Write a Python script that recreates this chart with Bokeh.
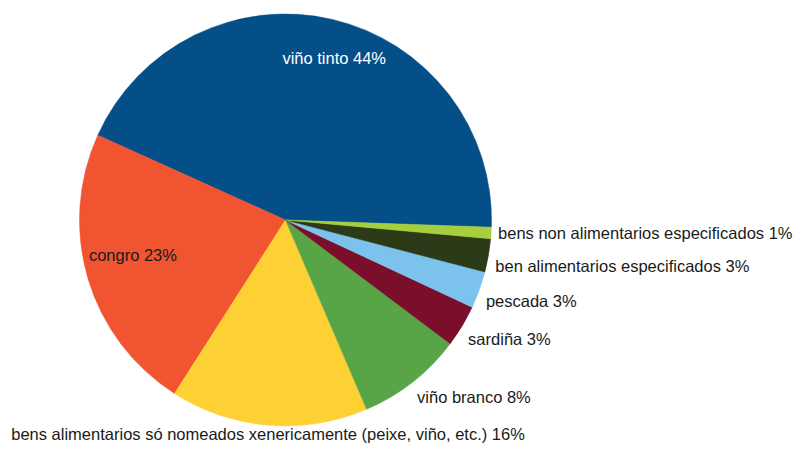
import math
from bokeh.plotting import figure
from bokeh.models import ColumnDataSource, Range1d
from bokeh.embed import file_html
from bokeh.resources import INLINE
from bokeh.core.properties import value

# ---- data ----
categories = [
    "viño tinto",
    "congro",
    "bens alimentarios só nomeados xenericamente (peixe, viño, etc.)",
    "viño branco",
    "sardiña",
    "pescada",
    "ben alimentarios especificados",
    "bens non alimentarios especificados",
]
shares = [43.8, 22.7, 15.5, 8.3, 3.3, 2.9, 2.6, 0.9]
colors = ["#054F88", "#F15430", "#FDD034", "#58A548", "#7A0E2B", "#7BC3EC", "#2B3A17", "#A5CF3D"]
label_inside = [True, True, False, False, False, False, False, False]

# ---- layout ----
W, H = 793, 443
CX, CY, R = 285.0, 223.5, 206.0
START_DEG = -2.0
FONT = "Liberation Sans"
FSIZE = 16.5
OUT_GAP = 7.0
INSIDE_RADIUS = [0.82, 0.76, 0, 0, 0, 0, 0, 0]
INSIDE_SHIFT_DEG = -3.6

total = sum(shares)
starts, ends, mids = [], [], []
a = math.radians(START_DEG)
for v in shares:
    span = 2 * math.pi * v / total
    starts.append(a)
    ends.append(a + span)
    mids.append(a + span / 2)
    a += span

src = ColumnDataSource(dict(cat=categories, start=starts, end=ends, color=colors))

p = figure(width=W, height=H, x_range=Range1d(0, W), y_range=Range1d(0, H),
           output_backend="svg", toolbar_location=None, min_border=0,
           x_axis_location=None, y_axis_location=None)
p.grid.visible = False
p.outline_line_color = None
p.background_fill_color = "white"
p.border_fill_color = "white"

p.wedge(x=CX, y=CY, radius=R, start_angle="start", end_angle="end",
        fill_color="color", line_color="color", line_width=0.5, source=src)

for name, v, m, ins, rf in zip(categories, shares, mids, label_inside, INSIDE_RADIUS):
    pct = int(math.floor(v / total * 100 + 0.5))
    txt = f"{name} {pct}%"
    if ins:
        ang = m + math.radians(INSIDE_SHIFT_DEG)
        rr = rf * R
        x = CX + rr * math.cos(ang)
        y = CY + rr * math.sin(ang)
        align, base = "center", "middle"
        col = "white" if pct > 30 else "#1a1a1a"
    else:
        rr = R + OUT_GAP
        c, s = math.cos(m), math.sin(m)
        x = CX + rr * c
        y = CY + rr * s
        if abs(s) < 0.1:
            base = "middle"
            align = "left" if c > 0 else "right"
        elif s < -0.9:
            base, align = "top", "center"
        elif s < 0:
            base = "top"
            align = "left" if c > 0 else "right"
        elif s > 0.9:
            base, align = "bottom", "center"
        else:
            base = "bottom"
            align = "left" if c > 0 else "right"
        if base == "top":
            y = max(y, FSIZE * 1.1)
        col = "#1a1a1a"
    p.text(x=[x], y=[y], text=[txt], text_align=align, text_baseline=base,
           text_font=value(FONT), text_font_size=f"{FSIZE}px", text_color=col)

open("out.html", "w").write(file_html(p, INLINE))
